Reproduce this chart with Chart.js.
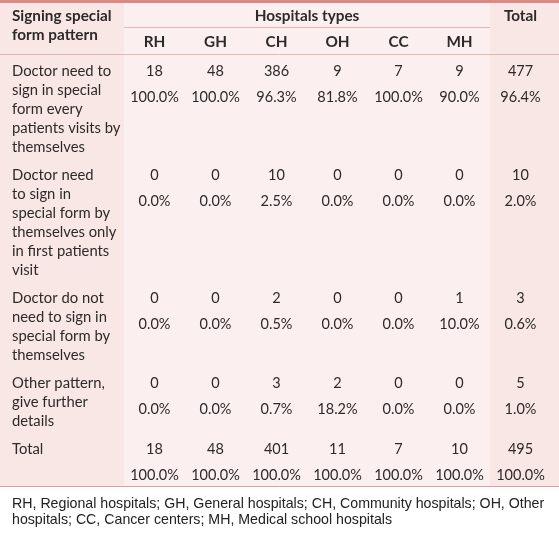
<!DOCTYPE html>
<html><head><meta charset="utf-8">
<script src="https://cdn.jsdelivr.net/npm/chart.js@4.4.1/dist/chart.umd.min.js"></script>
<style>html,body{margin:0;padding:0;background:#fff}canvas{display:block}</style>
</head><body>
<canvas id="c" width="559" height="534"></canvas>
<script>
// ---- data ----
const hospitalTypes = ['RH', 'GH', 'CH', 'OH', 'CC', 'MH'];
const headerLabel = ['Signing special', 'form pattern'];
const groupTitle = 'Hospitals types';
const totalTitle = 'Total';
const rowLabels = [
  ['Doctor need to', 'sign in special', 'form every', 'patients visits by', 'themselves'],
  ['Doctor need', 'to sign in', 'special form by', 'themselves only', 'in first patients', 'visit'],
  ['Doctor do not', 'need to sign in', 'special form by', 'themselves'],
  ['Other pattern,', 'give further', 'details'],
  ['Total']
];
// columns: RH, GH, CH, OH, CC, MH, Total
const rowCounts = [
  [18, 48, 386, 9, 7, 9, 477],
  [0, 0, 10, 0, 0, 0, 10],
  [0, 0, 2, 0, 0, 1, 3],
  [0, 0, 3, 2, 0, 0, 5],
  [18, 48, 401, 11, 7, 10, 495]
];
const rowPercents = [
  [100.0, 100.0, 96.3, 81.8, 100.0, 90.0, 96.4],
  [0.0, 0.0, 2.5, 0.0, 0.0, 0.0, 2.0],
  [0.0, 0.0, 0.5, 0.0, 0.0, 10.0, 0.6],
  [0.0, 0.0, 0.7, 18.2, 0.0, 0.0, 1.0],
  [100.0, 100.0, 100.0, 100.0, 100.0, 100.0, 100.0]
];
const footnote = [
  'RH, Regional hospitals; GH, General hospitals; CH, Community hospitals; OH, Other',
  'hospitals; CC, Cancer centers; MH, Medical school hospitals'
];

// ---- layout ----
const W = 559, H = 534;
const COL_W = 61, COL0 = 93.5;            // pixel of x=0 on the column scale
const XMIN = -COL0 / COL_W, XMAX = (W - COL0) / COL_W;
const LABEL_X = (12 - COL0) / COL_W;
const NOTE_X = (12 - COL0) / COL_W;
const LINE = 19, VAL_GAP = 26.5, ROW_PAD = 9, BODY_TOP = 71;
const TXT = '#2e2a2a';
const FONT = 'Lato, "Open Sans", sans-serif';

const labelPts = [], countPts = [], headPts = [], notePts = [];
let y0 = BODY_TOP, lastY = 0;
rowLabels.forEach((lines, r) => {
  lines.forEach((t, i) => labelPts.push({x: LABEL_X, y: y0 + i * LINE, text: t}));
  rowCounts[r].forEach((v, j) => {
    countPts.push({x: j + 1, y: y0, text: String(v)});
    countPts.push({x: j + 1, y: y0 + VAL_GAP, text: rowPercents[r][j].toFixed(1) + '%'});
  });
  lastY = y0;
  y0 += Math.max(lines.length * LINE, VAL_GAP + LINE) + ROW_PAD;
});
const TABLE_BOTTOM = lastY + VAL_GAP + 11.5;
headerLabel.forEach((t, i) => headPts.push({x: LABEL_X, y: 16 + i * LINE, text: t, align: 'left'}));
headPts.push({x: 3.5, y: 16, text: groupTitle, align: 'center'});
headPts.push({x: 7, y: 16, text: totalTitle, align: 'center'});
hospitalTypes.forEach((t, j) => headPts.push({x: j + 1, y: 42, text: t, align: 'center'}));
footnote.forEach((t, i) => notePts.push({x: NOTE_X, y: TABLE_BOTTOM + 17 + i * 16, text: t}));

const tablePlugin = {
  id: 'tablePlugin',
  beforeDatasetsDraw(chart) {
    const {ctx, scales: {x, y}} = chart;
    const X = v => x.getPixelForValue(v), Y = v => y.getPixelForValue(v);
    ctx.save();
    const top = Y(0), bot = Y(TABLE_BOTTOM);
    ctx.fillStyle = '#fbf0ef';
    ctx.fillRect(X(XMIN), top, X(XMAX) - X(XMIN), bot - top);
    ctx.fillStyle = '#f8e7e5';
    ctx.fillRect(X(XMIN), top, X(0.5) - X(XMIN), bot - top);
    ctx.fillRect(X(6.5), top, X(XMAX) - X(6.5), bot - top);
    ctx.fillStyle = '#d98a86';
    ctx.fillRect(X(XMIN), top, X(XMAX) - X(XMIN), Y(3) - top);
    ctx.strokeStyle = '#e3b6b2';
    ctx.lineWidth = 1;
    ctx.beginPath();
    ctx.moveTo(X(0.5), Math.round(Y(27)) + 0.5); ctx.lineTo(X(6.5), Math.round(Y(27)) + 0.5);
    ctx.moveTo(X(XMIN), Math.round(Y(53.5)) + 0.5); ctx.lineTo(X(XMAX), Math.round(Y(53.5)) + 0.5);
    ctx.stroke();
    ctx.strokeStyle = '#d9a29e';
    ctx.beginPath();
    ctx.moveTo(X(XMIN), Math.round(bot) - 0.5); ctx.lineTo(X(XMAX), Math.round(bot) - 0.5);
    ctx.stroke();
    ctx.restore();
  },
  afterDatasetsDraw(chart) {
    const ctx = chart.ctx;
    chart.data.datasets.forEach((ds, di) => {
      const meta = chart.getDatasetMeta(di);
      ctx.save();
      ctx.font = ds.textFont;
      ctx.fillStyle = ds.textColor;
      ctx.textBaseline = 'middle';
      meta.data.forEach((el, i) => {
        const p = ds.data[i];
        ctx.textAlign = p.align || ds.textAlign;
        ctx.fillText(p.text, el.x, el.y);
      });
      ctx.restore();
    });
  }
};

new Chart(document.getElementById('c'), {
  type: 'scatter',
  data: {
    datasets: [
      {label: 'header', data: headPts, textFont: 'bold 15.3px ' + FONT, textColor: TXT, textAlign: 'center'},
      {label: 'rows', data: labelPts, textFont: '14.8px ' + FONT, textColor: TXT, textAlign: 'left'},
      {label: 'values', data: countPts, textFont: '14.5px ' + FONT, textColor: TXT, textAlign: 'center'},
      {label: 'note', data: notePts, textFont: '14.2px "Liberation Sans", Arial, sans-serif', textColor: '#222', textAlign: 'left'}
    ]
  },
  options: {
    responsive: false,
    animation: false,
    devicePixelRatio: 1,
    layout: {padding: 0},
    elements: {point: {radius: 0, hoverRadius: 0}},
    plugins: {legend: {display: false}, tooltip: {enabled: false}},
    events: [],
    scales: {
      x: {type: 'linear', min: XMIN, max: XMAX, display: false},
      y: {type: 'linear', min: 0, max: H, reverse: true, display: false}
    }
  },
  plugins: [tablePlugin]
});
</script>
</body></html>
